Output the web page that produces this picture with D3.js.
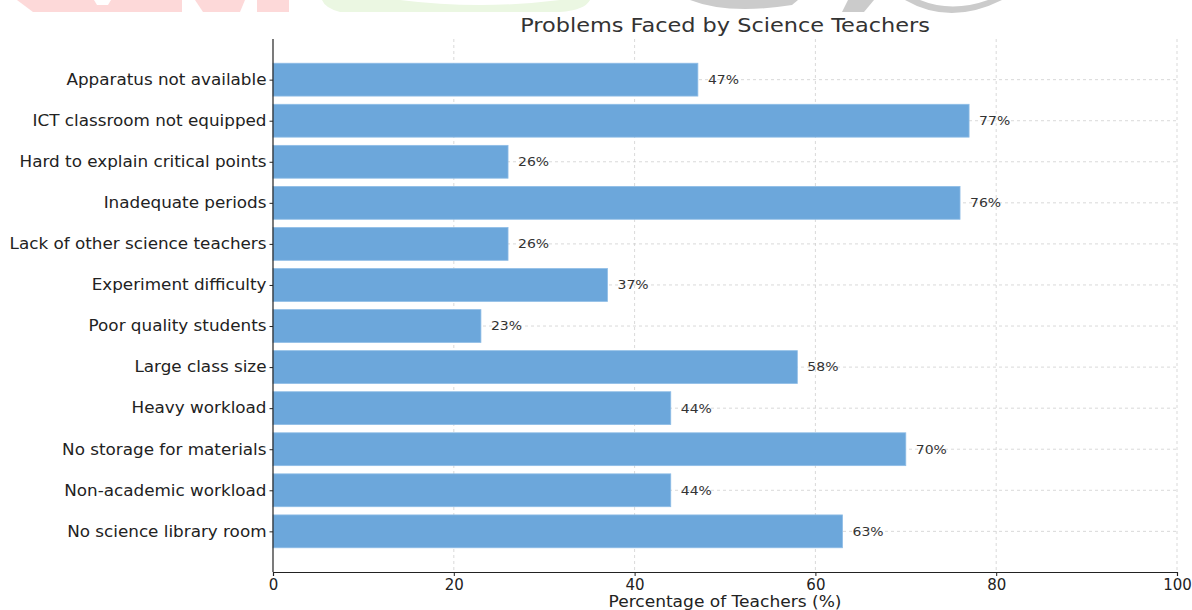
<!DOCTYPE html>
<html>
<head>
<meta charset="utf-8">
<script src="https://cdn.jsdelivr.net/npm/d3@7"></script>
<style>
  html, body { margin: 0; padding: 0; background: #ffffff; }
  svg { display: block; font-family: "DejaVu Sans", sans-serif; }
</style>
</head>
<body>
<svg id="chart" width="1192" height="610"></svg>
<script>
// Survey results: share of teachers reporting each problem
const categories = [
  "Apparatus not available",
  "ICT classroom not equipped",
  "Hard to explain critical points",
  "Inadequate periods",
  "Lack of other science teachers",
  "Experiment difficulty",
  "Poor quality students",
  "Large class size",
  "Heavy workload",
  "No storage for materials",
  "Non-academic workload",
  "No science library room"
];
const percentages = [47, 77, 26, 76, 26, 37, 23, 58, 44, 70, 44, 63];
const xTicks = [0, 20, 40, 60, 80, 100];

const titleText = "Problems Faced by Science Teachers";
const xLabelText = "Percentage of Teachers (%)";

const svg = d3.select("#chart");
const margin = { left: 273, right: 15, top: 39, bottom: 38 };
const W = 1192, H = 610;
const plotW = W - margin.left - margin.right;
const plotH = H - margin.top - margin.bottom;

// text is drawn slightly widened horizontally
const stretch = 1.12;

// faint logo band along the top edge
const mark = svg.append("g").attr("class", "logo-band");
mark.append("path").attr("fill", "#fdd9d9")
  .attr("d", "M17,0 L94,0 L97,5 L108,5 L111,0 L182,0 L182,12 L33,12 Z");
mark.append("path").attr("fill", "#fdd9d9")
  .attr("d", "M195,0 L245,0 L240,12 L203,12 Z");
mark.append("path").attr("fill", "#fdd9d9")
  .attr("d", "M257,0 L289,0 L289,12 L257,12 Z");
mark.append("path").attr("fill", "#ebf7e2")
  .attr("d", "M322,0 L590,0 Q585,10 560,12 L340,12 Q325,8 322,0 Z M400,0 Q480,10 560,0 Z")
  .attr("fill-rule", "evenodd");
mark.append("path").attr("fill", "#cbcbcb")
  .attr("d", "M690,0 Q728,15 792,5 L798,0 Z");
mark.append("path").attr("fill", "#cbcbcb")
  .attr("d", "M848,0 L874,0 L864,12 L842,12 Z");
mark.append("path").attr("fill", "#cbcbcb")
  .attr("d", "M905,0 Q950,26 1002,0 L988,0 Q952,13 920,0 Z");

const x = d3.scaleLinear().domain([0, 100]).range([0, plotW]);
// bar centres one unit apart, with 0.05 padding around 12 bars of height 0.8
const y = d3.scaleLinear().domain([-0.99, 11.99]).range([0, plotH]);
const barH = y(0.8) - y(0);

const g = svg.append("g").attr("transform", `translate(${margin.left},${margin.top})`);

// grid
const grid = g.append("g").attr("class", "grid");
grid.selectAll("line.vx").data(xTicks.slice(1)).join("line")
  .attr("x1", d => x(d)).attr("x2", d => x(d))
  .attr("y1", 0).attr("y2", plotH)
  .attr("stroke", "#cfcfcf").attr("stroke-width", 0.8).attr("stroke-dasharray", "3,3");
grid.selectAll("line.hy").data(categories).join("line")
  .attr("x1", 0).attr("x2", plotW)
  .attr("y1", (d, i) => y(i)).attr("y2", (d, i) => y(i))
  .attr("stroke", "#cfcfcf").attr("stroke-width", 0.8).attr("stroke-dasharray", "3,3");

// bars
g.selectAll("rect.bar").data(percentages).join("rect")
  .attr("class", "bar")
  .attr("x", x(0))
  .attr("y", (d, i) => y(i) - barH / 2)
  .attr("width", d => x(d) - x(0))
  .attr("height", barH)
  .attr("fill", "#6ca7db")
  .attr("stroke", "#8fbde6").attr("stroke-width", 0.8);

// value labels
g.selectAll("text.val").data(percentages).join("text")
  .attr("class", "val")
  .attr("transform", (d, i) => `translate(${x(d) + 10},${y(i)}) scale(${stretch},1)`)
  .attr("dy", "0.35em")
  .attr("font-size", 12.5)
  .attr("fill", "#333")
  .text(d => d + "%");

// x axis
const xAxis = g.append("g").attr("transform", `translate(0,${plotH})`)
  .call(d3.axisBottom(x).tickValues(xTicks).tickSize(4).tickPadding(3).tickFormat(d3.format("d")));
xAxis.select(".domain").attr("stroke", "#222").attr("stroke-width", 1.2);
xAxis.selectAll(".tick line").attr("stroke", "#222");
xAxis.selectAll(".tick text").attr("font-size", 15).attr("fill", "#222")
  .attr("font-family", "DejaVu Sans, sans-serif");

// y axis
const yAxis = g.append("g")
  .call(d3.axisLeft(y).tickValues(d3.range(categories.length)).tickSize(3.5).tickPadding(3)
    .tickFormat(i => categories[i]));
yAxis.select(".domain").attr("d", `M0,0V${plotH}`).attr("stroke", "#222").attr("stroke-width", 1.2);
yAxis.selectAll(".tick line").attr("stroke", "#222");
yAxis.selectAll(".tick text").attr("font-size", 15).attr("fill", "#222")
  .attr("font-family", "DejaVu Sans, sans-serif")
  .attr("x", -6.5 / stretch)
  .attr("transform", `scale(${stretch},1)`);

// title and axis label
svg.append("text")
  .attr("transform", `translate(${margin.left + plotW / 2},32) scale(1.15,1)`)
  .attr("text-anchor", "middle").attr("font-size", 19.5).attr("fill", "#333")
  .text(titleText);
svg.append("text")
  .attr("transform", `translate(${margin.left + plotW / 2},607) scale(1.1,1)`)
  .attr("text-anchor", "middle").attr("font-size", 15.5).attr("fill", "#222")
  .text(xLabelText);
</script>
</body>
</html>
